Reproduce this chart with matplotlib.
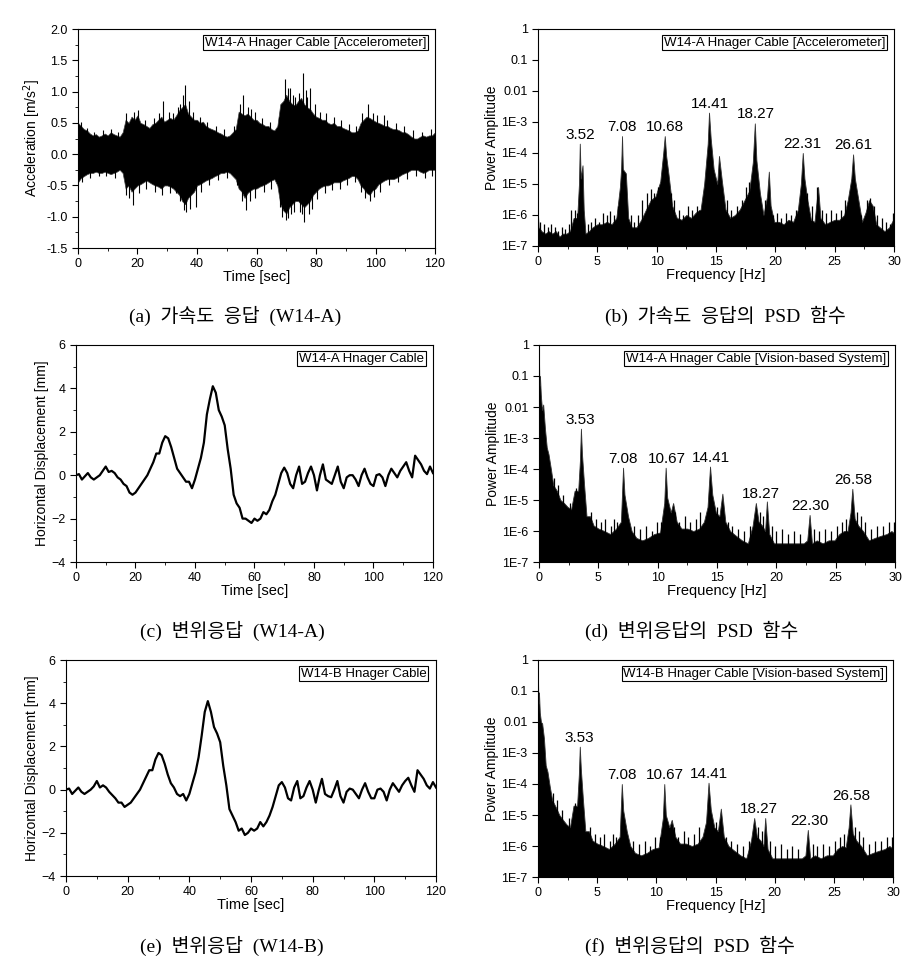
import numpy as np
import matplotlib
matplotlib.use("Agg")
import matplotlib.pyplot as plt
from matplotlib.ticker import MultipleLocator, FixedLocator, FixedFormatter, NullLocator, FormatStrFormatter

plt.rcParams['font.family'] = ['Liberation Sans', 'DejaVu Sans']

# ---- (a) acceleration, envelope read every second (m/s^2) ----
acc_t = list(range(0, 121))
acc_upper = [0.50, 0.45, 0.40, 0.38, 0.33, 0.30, 0.32, 0.28, 0.30, 0.33, 0.30, 0.35, 0.32, 0.30, 0.28, 0.35,
             0.55, 0.50, 0.60, 0.55, 0.62, 0.50, 0.48, 0.45, 0.42, 0.48, 0.50, 0.55, 0.60, 0.52, 0.55, 0.58,
             0.55, 0.62, 0.70, 0.75, 0.80, 0.65, 0.60, 0.55, 0.55, 0.50, 0.52, 0.45, 0.42, 0.40, 0.38, 0.35,
             0.33, 0.30, 0.28, 0.30, 0.35, 0.40, 0.68, 0.65, 0.62, 0.65, 0.60, 0.55, 0.55, 0.50, 0.48, 0.45,
             0.45, 0.40, 0.38, 0.45, 0.80, 0.85, 0.95, 0.85, 0.80, 0.78, 0.85, 0.90, 0.80, 0.75, 0.72, 0.65,
             0.60, 0.58, 0.55, 0.55, 0.50, 0.48, 0.50, 0.45, 0.45, 0.42, 0.40, 0.38, 0.35, 0.35, 0.38, 0.50,
             0.55, 0.60, 0.58, 0.55, 0.52, 0.50, 0.48, 0.45, 0.45, 0.42, 0.40, 0.40, 0.38, 0.35, 0.35, 0.32,
             0.28, 0.25, 0.25, 0.28, 0.30, 0.28, 0.30, 0.30, 0.35]
acc_lower = [-0.45, -0.38, -0.35, -0.32, -0.30, -0.30, -0.28, -0.30, -0.30, -0.28, -0.30, -0.32, -0.30, -0.28,
             -0.25, -0.30, -0.55, -0.50, -0.60, -0.55, -0.50, -0.48, -0.45, -0.42, -0.45, -0.48, -0.50, -0.52,
             -0.55, -0.50, -0.50, -0.52, -0.55, -0.60, -0.65, -0.75, -0.80, -0.70, -0.65, -0.60, -0.50, -0.48,
             -0.45, -0.42, -0.40, -0.38, -0.35, -0.33, -0.30, -0.30, -0.28, -0.30, -0.35, -0.40, -0.55, -0.60,
             -0.70, -0.62, -0.58, -0.55, -0.55, -0.52, -0.50, -0.48, -0.45, -0.42, -0.40, -0.50, -0.80, -0.90,
             -0.95, -0.85, -0.80, -0.75, -0.75, -0.80, -0.85, -0.80, -0.75, -0.65, -0.60, -0.55, -0.52, -0.50,
             -0.50, -0.48, -0.45, -0.45, -0.45, -0.42, -0.40, -0.38, -0.35, -0.35, -0.40, -0.50, -0.55, -0.62,
             -0.65, -0.58, -0.55, -0.48, -0.45, -0.42, -0.40, -0.40, -0.40, -0.38, -0.35, -0.32, -0.30, -0.28,
             -0.25, -0.25, -0.25, -0.28, -0.30, -0.28, -0.25, -0.25, -0.25]
# individual spikes sticking out of the band
spike_t = [16.2, 18.8, 28.6, 30.5, 33.5, 35.3, 36.0, 37.2, 54.5, 55.6, 58.2, 69.5, 71.3, 73.0, 75.5, 76.5,
           78.0, 97.5, 99.3, 102.8,
           1.0, 3.0, 5.5, 8.5, 11.0, 13.5, 20.2, 22.5, 25.5, 27.3, 31.8, 34.2, 38.5, 41.0, 43.5, 46.5, 49.0,
           52.5, 57.2, 59.5, 62.0, 64.5, 67.5, 70.5, 72.2, 74.2, 77.0, 79.5, 81.5, 83.5, 86.0, 88.5, 91.0,
           93.5, 95.5, 100.5, 104.0, 107.0, 109.5, 112.5, 115.5, 118.5,
           16.0, 18.5, 33.0, 35.5, 36.3, 39.5, 55.0, 56.5, 68.5, 69.8, 71.5, 74.5, 76.0, 77.5, 98.0, 96.5,
           1.5, 4.0, 7.0, 9.5, 12.5, 17.2, 20.5, 23.0, 25.8, 28.2, 30.8, 34.2, 37.5, 41.5, 44.0, 47.0, 50.0,
           53.5, 57.8, 59.5, 62.5, 65.0, 67.8, 70.5, 72.5, 75.3, 78.5, 80.5, 83.0, 85.5, 88.0, 90.5, 93.0,
           95.0, 99.5, 101.5, 104.5, 107.5, 110.5, 113.5, 116.5, 119.0]
spike_v = [0.65, 0.68, 0.85, 0.68, 0.75, 0.95, 1.10, 0.85, 0.80, 0.95, 0.72, 1.20, 1.05, 0.92, 1.30, 1.02,
           1.05, 0.80, 0.65, 0.62,
           0.52, 0.42, 0.35, 0.38, 0.40, 0.36, 0.70, 0.55, 0.58, 0.65, 0.65, 0.80, 0.68, 0.60, 0.52, 0.45, 0.40,
           0.45, 0.75, 0.68, 0.58, 0.52, 0.60, 1.05, 0.95, 0.98, 0.92, 0.80, 0.68, 0.65, 0.60, 0.55, 0.48,
           0.45, 0.65, 0.62, 0.55, 0.50, 0.45, 0.38, 0.35, 0.40,
           -0.65, -0.82, -0.62, -0.90, -0.92, -0.85, -0.75, -0.90, -1.00, -1.05, -0.95, -0.92, -1.08, -0.95,
           -0.75, -0.70,
           -0.45, -0.38, -0.35, -0.35, -0.38, -0.70, -0.62, -0.55, -0.60, -0.65, -0.62, -0.75, -0.88, -0.60,
           -0.50, -0.42, -0.38, -0.50, -0.75, -0.70, -0.60, -0.55, -0.85, -1.02, -0.92, -0.95, -0.88, -0.72,
           -0.62, -0.58, -0.55, -0.50, -0.45, -0.60, -0.68, -0.60, -0.50, -0.45, -0.40, -0.35, -0.38, -0.35]

# ---- (c), (e) displacement read every second (mm) ----
disp_t = list(range(0, 121))
disp_a = [0.0, 0.05, -0.2, -0.05, 0.1, -0.1, -0.2, -0.1, 0.0, 0.2, 0.4, 0.15, 0.2, 0.1, -0.1, -0.2, -0.4, -0.5,
          -0.8, -0.9, -0.8, -0.6, -0.4, -0.2, 0.0, 0.3, 0.6, 1.0, 1.0, 1.5, 1.8, 1.7, 1.3, 0.8, 0.3, 0.1, -0.1,
          -0.3, -0.3, -0.6, -0.2, 0.3, 0.8, 1.5, 2.8, 3.5, 4.1, 3.8, 3.0, 2.7, 2.3, 1.2, 0.3, -0.9, -1.3, -1.5,
          -2.0, -2.0, -2.1, -2.2, -2.0, -2.1, -2.0, -1.7, -1.8, -1.6, -1.2, -0.9, -0.4, 0.1, 0.35, 0.1, -0.4,
          -0.6, 0.0, 0.4, -0.4, -0.3, 0.1, 0.4, 0.0, -0.7, 0.0, 0.5, -0.2, -0.3, -0.4, 0.0, 0.4, -0.3, -0.6,
          -0.1, 0.0, 0.0, -0.2, -0.5, 0.0, 0.3, -0.1, -0.4, -0.5, 0.0, 0.05, -0.1, -0.5, 0.0, 0.3, 0.1, -0.1,
          0.2, 0.4, 0.6, 0.2, -0.1, 0.9, 0.7, 0.5, 0.2, 0.05, 0.4, 0.1]
disp_b = [0.0, 0.05, -0.2, -0.05, 0.1, -0.1, -0.2, -0.1, 0.0, 0.15, 0.4, 0.1, 0.2, 0.1, -0.1, -0.25, -0.4, -0.6,
          -0.6, -0.8, -0.7, -0.6, -0.4, -0.2, 0.0, 0.3, 0.6, 0.9, 0.9, 1.4, 1.7, 1.6, 1.2, 0.7, 0.3, 0.1, -0.2,
          -0.3, -0.2, -0.5, -0.2, 0.3, 0.8, 1.5, 2.5, 3.6, 4.1, 3.6, 2.9, 2.6, 2.2, 1.1, 0.2, -0.9, -1.2, -1.5,
          -1.9, -1.8, -2.1, -2.0, -1.8, -1.9, -1.8, -1.5, -1.7, -1.5, -1.2, -0.8, -0.3, 0.2, 0.35, 0.1, -0.4,
          -0.5, 0.1, 0.4, -0.4, -0.3, 0.1, 0.4, 0.0, -0.6, 0.0, 0.5, -0.2, -0.3, -0.35, 0.0, 0.4, -0.3, -0.6,
          -0.1, 0.05, 0.0, -0.2, -0.4, 0.0, 0.3, -0.1, -0.4, -0.4, 0.0, 0.05, -0.1, -0.5, 0.0, 0.3, 0.1, -0.1,
          0.2, 0.4, 0.55, 0.2, -0.1, 0.9, 0.7, 0.5, 0.2, 0.05, 0.35, 0.1]

# ---- (b) PSD of acceleration, upper envelope ----
psd_b_f = [0, 0.05, 0.3, 0.6, 0.9, 1.2, 1.5, 1.8, 2.1, 2.4,
           2.7, 3.0, 3.3, 3.45, 3.52, 3.6, 3.75, 3.85, 4.0, 4.3,
           4.6, 5.0, 5.4, 5.8, 6.2, 6.6, 6.9, 7.0, 7.08, 7.15,
           7.4, 7.6, 7.9, 8.3, 8.7, 9.1, 9.5, 9.9, 10.3, 10.55,
           10.68, 10.8, 11.0, 11.3, 11.7, 12.1, 12.5, 12.9, 13.3, 13.7,
           14.0, 14.3, 14.41, 14.55, 14.8, 15.1, 15.25, 15.5, 15.8, 16.2,
           16.6, 17.0, 17.4, 17.8, 18.1, 18.27, 18.4, 18.7, 19.0, 19.3,
           19.45, 19.6, 19.9, 20.3, 20.7, 21.1, 21.5, 21.9, 22.15, 22.31,
           22.45, 22.7, 23.0, 23.3, 23.6, 23.8, 24.2, 24.6, 25.0, 25.4,
           25.8, 26.1, 26.4, 26.55, 26.7, 27.0, 27.3, 27.6, 27.9, 28.2,
           28.5, 28.8, 29.2, 29.6, 30]
psd_b_a = [1e-6, 4e-7, 3e-7, 2.5e-7, 3e-7, 2.5e-7, 3e-7, 2e-7, 2.5e-7, 2.5e-7,
           3e-7, 8e-7, 8e-7, 1e-5, 2e-4, 1.5e-5, 4e-5, 1.5e-6, 2.5e-7, 3e-7,
           4e-7, 5e-7, 5e-7, 6e-7, 5e-7, 8e-7, 8e-6, 3e-5, 3.5e-4, 3e-5,
           2.2e-5, 8e-7, 4e-7, 4e-7, 7e-7, 1.5e-6, 3e-6, 4e-6, 1.2e-5, 1e-4,
           3.5e-4, 8e-5, 2e-5, 2e-6, 8e-7, 7e-7, 1e-6, 8e-7, 1.2e-6, 1.5e-6,
           1e-5, 2e-4, 2e-3, 3e-4, 3e-5, 1e-5, 8e-5, 1.2e-5, 1.5e-6, 8e-7,
           1e-6, 1.5e-6, 3e-6, 6e-6, 5e-5, 9e-4, 6e-5, 5e-6, 1e-6, 4e-6,
           2.5e-5, 2e-6, 6e-7, 6e-7, 5e-7, 7e-7, 6e-7, 1.5e-6, 1e-5, 1e-4,
           1.5e-5, 3e-6, 7e-7, 6e-7, 8e-6, 8e-7, 5e-7, 6e-7, 7e-7, 7e-7,
           1e-6, 3e-6, 1.5e-5, 9e-5, 1.5e-5, 3e-6, 6e-7, 1.2e-6, 3e-6, 2e-6,
           5e-7, 4e-7, 3e-7, 4e-7, 8e-7]
# small spikes standing out of the noise floor
floor_b_f = [0.2, 0.5, 0.8, 1.1, 1.4, 1.7, 2.0, 2.3, 2.6, 2.8, 3.1, 3.3, 4.2, 4.5, 4.8, 5.1, 5.5, 5.8,
             6.1, 6.4, 6.7, 7.8, 8.1, 8.4, 8.8, 9.2, 9.5, 9.8, 10.1, 11.2, 11.5, 11.9, 12.2, 12.6, 13.0,
             13.4, 13.6, 15.9, 16.3, 16.8, 17.2, 17.5, 17.8, 19.1, 19.8, 20.1, 20.5, 20.9, 21.3, 21.7,
             22.7, 23.1, 23.5, 23.9, 24.3, 24.7, 25.1, 25.5, 25.9, 27.2, 27.7, 28.0, 28.3, 28.6, 29.0,
             29.3, 29.7, 29.9]
floor_b_a = [6e-7, 5e-7, 4e-7, 5e-7, 4e-7, 3e-7, 4e-7, 3.5e-7, 5e-7, 1.5e-6, 1.5e-6, 1.2e-6, 5e-7, 6e-7,
             8e-7, 6e-7, 1.2e-6, 1e-6, 1.3e-6, 1e-6, 2e-6, 1e-6, 6e-7, 1e-6, 3e-6, 5e-6, 7e-6, 5e-6, 8e-6,
             5e-6, 3e-6, 1.5e-6, 1e-6, 2e-6, 1.5e-6, 2e-6, 1.5e-6, 3e-6, 1.5e-6, 2e-6, 3e-6, 8e-6, 1.2e-5,
             3e-6, 1e-6, 1.2e-6, 8e-7, 1.2e-6, 1e-6, 1.5e-6, 5e-6, 2e-6, 8e-6, 1.5e-6, 1.2e-6, 1.5e-6,
             1.2e-6, 1.5e-6, 3e-6, 1e-6, 3e-6, 3.5e-6, 2e-6, 1e-6, 8e-7, 6e-7, 5e-7, 1.2e-6]
peaks_b = [3.52, 7.08, 10.68, 14.41, 18.27, 22.31, 26.61]
peaks_b_x = [3.52, 7.08, 10.72, 14.45, 18.35, 22.25, 26.55]
peaks_b_y = [2e-4, 3.5e-4, 3.5e-4, 2e-3, 9e-4, 1e-4, 9e-5]

# ---- (d), (f) PSD of displacement, upper envelope ----
psd_d_f = [0, 0.03, 0.08, 0.15, 0.25, 0.35, 0.5, 0.65, 0.8, 1.0,
           1.2, 1.5, 1.8, 2.1, 2.4, 2.7, 3.0, 3.3, 3.45, 3.53,
           3.62, 3.8, 4.0, 4.3, 4.6, 5.0, 5.5, 6.0, 6.5, 6.9,
           7.08, 7.2, 7.5, 7.8, 8.2, 8.7, 9.2, 9.7, 10.2, 10.55,
           10.67, 10.8, 11.1, 11.3, 11.6, 12.0, 12.5, 13.0, 13.5, 13.9,
           14.2, 14.41, 14.6, 14.9, 15.2, 15.45, 15.7, 16.1, 16.6, 17.1,
           17.6, 18.0, 18.27, 18.5, 18.8, 19.05, 19.2, 19.4, 19.8, 20.3,
           20.8, 21.3, 21.8, 22.3, 22.6, 22.8, 23.0, 23.4, 23.9, 24.4,
           24.9, 25.3, 25.7, 26.0, 26.25, 26.4, 26.6, 26.9, 27.3, 27.8,
           28.3, 28.8, 29.3, 29.7, 30]
psd_d_a = [0.3, 0.05, 0.1, 0.025, 0.008, 0.012, 2e-3, 5e-4, 3e-4, 1e-4,
           3e-5, 2e-5, 1e-5, 8e-6, 6e-6, 5e-6, 2e-5, 2e-5, 2e-4, 2e-3,
           3e-4, 3e-5, 3e-6, 3e-6, 1.5e-6, 1.2e-6, 1e-6, 8e-7, 1.2e-6, 2e-6,
           1.1e-4, 1.5e-5, 3e-6, 1e-6, 6e-7, 5e-7, 6e-7, 8e-7, 9e-7, 8e-6,
           1.1e-4, 1.2e-5, 4e-6, 8e-6, 2e-6, 1.2e-6, 1.2e-6, 1e-6, 1.2e-6, 2e-6,
           6e-6, 1.2e-4, 1.5e-5, 4e-6, 3e-6, 1.6e-5, 2e-6, 1e-6, 7e-7, 5e-7,
           4e-7, 1.5e-6, 8e-6, 2e-6, 1.5e-6, 1e-6, 9e-6, 8e-7, 4e-7, 4e-7,
           4e-7, 4e-7, 4e-7, 4e-7, 5e-7, 3.3e-6, 4e-7, 5e-7, 4e-7, 5e-7,
           5e-7, 8e-7, 1e-6, 1e-6, 4e-6, 2.3e-5, 2.5e-6, 1.5e-6, 1e-6, 5e-7,
           6e-7, 7e-7, 8e-7, 1e-6, 8e-7]
psd_f_a = [0.25, 0.04, 0.09, 0.02, 0.01, 0.009, 3e-3, 4e-4, 2.5e-4, 8e-5,
           3e-5, 1.8e-5, 1e-5, 7e-6, 5e-6, 4e-6, 2e-5, 2e-5, 2e-4, 1.6e-3,
           3e-4, 3e-5, 3e-6, 3e-6, 1.5e-6, 1.2e-6, 1e-6, 8e-7, 1.2e-6, 2e-6,
           1e-4, 1.4e-5, 3e-6, 1e-6, 6e-7, 5e-7, 6e-7, 8e-7, 9e-7, 8e-6,
           1e-4, 1e-5, 4e-6, 7e-6, 2e-6, 1.2e-6, 1.2e-6, 1e-6, 1.2e-6, 2e-6,
           6e-6, 1.1e-4, 1.5e-5, 4e-6, 3e-6, 1.6e-5, 2e-6, 1e-6, 7e-7, 5e-7,
           4e-7, 1.5e-6, 8e-6, 2e-6, 1.5e-6, 1e-6, 8e-6, 8e-7, 4e-7, 4e-7,
           4e-7, 4e-7, 4e-7, 4e-7, 5e-7, 3.3e-6, 4e-7, 5e-7, 4e-7, 5e-7,
           5e-7, 8e-7, 1e-6, 9e-7, 4e-6, 2.2e-5, 2.5e-6, 1.5e-6, 1e-6, 5e-7,
           6e-7, 7e-7, 8e-7, 1e-6, 8e-7]
floor_d_f = [1.3, 1.6, 2.0, 2.6, 3.1, 4.4, 4.8, 5.2, 5.6, 6.1, 6.3, 6.6, 8.0, 8.5, 9.0, 9.5, 9.9, 10.3,
             11.5, 11.8, 12.3, 12.7, 13.2, 13.6, 15.0, 15.9, 16.3, 16.8, 17.3, 17.8, 18.6, 18.9, 19.6,
             20.0, 20.5, 21.0, 21.5, 22.0, 23.2, 23.6, 24.1, 24.6, 25.1, 25.5, 25.9, 26.8, 27.1, 27.5,
             28.0, 28.5, 29.0, 29.5, 29.9]
floor_d_a = [5e-5, 3e-5, 1.5e-5, 8e-6, 2.5e-5, 4e-6, 2.5e-6, 2e-6, 2.5e-6, 1.5e-6, 2.5e-6, 2e-6, 1.5e-6,
             1.2e-6, 1.5e-6, 1e-6, 2e-6, 2e-6, 4e-6, 2e-6, 3e-6, 2e-6, 2.5e-6, 4e-6, 6e-6, 2e-6, 1.5e-6,
             1.2e-6, 1e-6, 1.5e-6, 4e-6, 3e-6, 1.5e-6, 1e-6, 1.2e-6, 8e-7, 1e-6, 8e-7, 1.2e-6, 1e-6,
             1.2e-6, 1e-6, 1.5e-6, 2e-6, 2.5e-6, 4e-6, 3e-6, 2e-6, 1.2e-6, 1.5e-6, 1.5e-6, 2e-6, 2e-6]
peaks_d = ['3.53', '7.08', '10.67', '14.41', '18.27', '22.30', '26.58']
peaks_d_x = [3.5, 7.1, 10.75, 14.45, 18.7, 22.9, 26.5]
peaks_d_y = [2e-3, 1.1e-4, 1.1e-4, 1.2e-4, 8e-6, 3.3e-6, 2.3e-5]
peaks_f_y = [1.6e-3, 1e-4, 1e-4, 1.1e-4, 8e-6, 3.3e-6, 2.2e-5]

log_ticks = [1, 0.1, 0.01, 1e-3, 1e-4, 1e-5, 1e-6, 1e-7]
log_labels = ['1', '0.1', '0.01', '1E-3', '1E-4', '1E-5', '1E-6', '1E-7']


def style(ax):
    ax.tick_params(which='both', direction='out', labelsize=9, top=False, right=False)
    ax.tick_params(which='major', length=4, width=0.8)
    ax.tick_params(which='minor', length=2, width=0.6)
    for s in ax.spines.values():
        s.set_linewidth(0.8)


def box_label(ax, text):
    ax.text(0.975, 0.965, text, transform=ax.transAxes, ha='right', va='top', fontsize=9.5,
            bbox=dict(boxstyle='square,pad=0.12', fc='white', ec='black', lw=0.8))


def time_axes(ax, ylabel):
    ax.set_xlim(0, 120)
    ax.xaxis.set_major_locator(MultipleLocator(20))
    ax.xaxis.set_minor_locator(MultipleLocator(10))
    ax.set_xlabel('Time [sec]', fontsize=10.5, labelpad=0)
    ax.set_ylabel(ylabel, fontsize=10, labelpad=2)
    style(ax)


def psd_axes(ax, fvals, avals, floor_f, floor_a, labels, lx, ly, title):
    ax.fill_between(fvals, 1e-7, avals, color='black', lw=0.6, edgecolor='#333333')
    ax.vlines(floor_f, 1e-7, floor_a, color='black', lw=0.9)
    ax.set_yscale('log')
    ax.set_ylim(1e-7, 1)
    ax.set_xlim(0, 30)
    ax.yaxis.set_major_locator(FixedLocator(log_ticks))
    ax.yaxis.set_major_formatter(FixedFormatter(log_labels))
    ax.yaxis.set_minor_locator(NullLocator())
    ax.xaxis.set_major_locator(MultipleLocator(5))
    ax.xaxis.set_minor_locator(MultipleLocator(2.5))
    for lab, x, y in zip(labels, lx, ly):
        ax.text(x, y * 1.15, lab, ha='center', va='bottom', fontsize=11)
    ax.set_xlabel('Frequency [Hz]', fontsize=10.5, labelpad=0)
    ax.set_ylabel('Power Amplitude', fontsize=10, labelpad=2)
    box_label(ax, title)
    style(ax)


fig = plt.figure(figsize=(9.23, 9.68), dpi=100)

# (a)
ax1 = fig.add_axes([0.0845, 0.7438, 0.3868, 0.2262])
ax1.fill_between(acc_t, acc_lower, acc_upper, color='black', lw=0.5, edgecolor='#444444')
ax1.vlines(spike_t, 0, spike_v, color='black', lw=0.8)
ax1.set_ylim(-1.5, 2.0)
ax1.yaxis.set_major_locator(MultipleLocator(0.5))
ax1.yaxis.set_minor_locator(MultipleLocator(0.25))
ax1.yaxis.set_major_formatter(FormatStrFormatter('%.1f'))
time_axes(ax1, 'Acceleration [m/s$^2$]')
box_label(ax1, 'W14-A Hnager Cable [Accelerometer]')

# (b)
ax2 = fig.add_axes([0.5829, 0.7459, 0.3857, 0.2242])
psd_axes(ax2, psd_b_f, psd_b_a, floor_b_f, floor_b_a, [f'{p:.2f}' for p in peaks_b], peaks_b_x, peaks_b_y,
         'W14-A Hnager Cable [Accelerometer]')

# (c)
ax3 = fig.add_axes([0.0823, 0.4194, 0.3868, 0.2242])
ax3.plot(disp_t, disp_a, color='black', lw=1.6)
ax3.set_ylim(-4, 6)
ax3.yaxis.set_major_locator(MultipleLocator(2))
ax3.yaxis.set_minor_locator(MultipleLocator(1))
time_axes(ax3, 'Horizontal Displacement [mm]')
box_label(ax3, 'W14-A Hnager Cable')

# (d)
ax4 = fig.add_axes([0.584, 0.4194, 0.3857, 0.2242])
psd_axes(ax4, psd_d_f, psd_d_a, floor_d_f, floor_d_a, peaks_d, peaks_d_x, peaks_d_y,
         'W14-A Hnager Cable [Vision-based System]')

# (e)
ax5 = fig.add_axes([0.0715, 0.095, 0.4009, 0.2231])
ax5.plot(disp_t, disp_b, color='black', lw=1.6)
ax5.set_ylim(-4, 6)
ax5.yaxis.set_major_locator(MultipleLocator(2))
ax5.yaxis.set_minor_locator(MultipleLocator(1))
time_axes(ax5, 'Horizontal Displacement [mm]')
box_label(ax5, 'W14-B Hnager Cable')

# (f)
ax6 = fig.add_axes([0.5829, 0.094, 0.3846, 0.2242])
psd_axes(ax6, psd_d_f, psd_f_a, floor_d_f, floor_d_a, peaks_d, peaks_d_x, peaks_f_y,
         'W14-B Hnager Cable [Vision-based System]')

cap = dict(fontsize=14, ha='center', va='center', family=['Liberation Serif', 'Noto Sans CJK KR'])
fig.text(235 / 923, 1 - 316 / 968, '(a)  가속도  응답  (W14-A)', **cap)
fig.text(725 / 923, 1 - 316 / 968, '(b)  가속도  응답의  PSD  함수', **cap)
fig.text(232 / 923, 1 - 631 / 968, '(c)  변위응답  (W14-A)', **cap)
fig.text(692 / 923, 1 - 631 / 968, '(d)  변위응답의  PSD  함수', **cap)
fig.text(232 / 923, 1 - 946 / 968, '(e)  변위응답  (W14-B)', **cap)
fig.text(690 / 923, 1 - 946 / 968, '(f)  변위응답의  PSD  함수', **cap)

fig.savefig('out.png', dpi=100)
